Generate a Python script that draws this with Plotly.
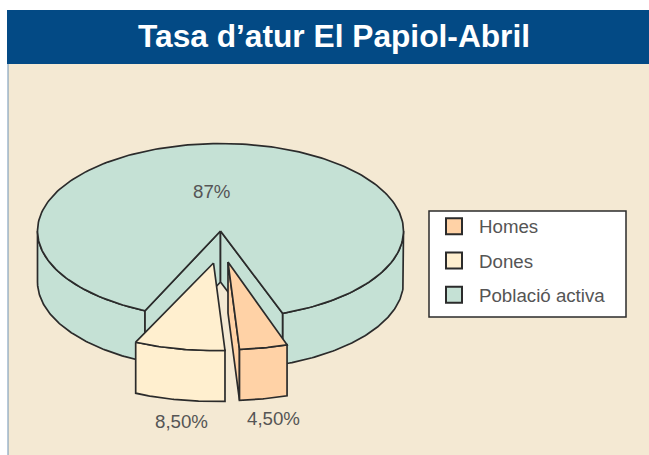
import numpy as np
import plotly.graph_objects as go

# ---- data ----
categories = ["Homes", "Dones", "Població activa"]
values = [4.5, 8.5, 87.0]
value_labels = ["4,50%", "8,50%", "87%"]
title_text = "Tasa d’atur El Papiol-Abril"

# ---- styles / projection ----
colors = ["#FFD2A6", "#FFEFCF", "#C5E1D5"]
BG = "#F4E9D3"
BLUE = "#034A85"
EDGE = "#2B2B2B"
LW = 1.7
CX, CY, RX, RY, DEPTH = 220.5, 231.0, 183.0, 87.5, 51.0
BOUNDARY = 3.6         # projected angle between the two pulled-out slices
FORESHORTEN = 0.94     # front of the tilted pie is foreshortened
EXPLODE_H = (7.5, 31.0)
EXPLODE_D = (-7.0, 32.0)


def arc(a0, a1, n=90, dx=0.0, dy=0.0):
    t = np.radians(np.linspace(a0, a1, n))
    return CX + dx + RX * np.sin(t), CY + dy + RY * np.cos(t)


sweep_h = values[0] / 100 * 360 * FORESHORTEN
sweep_d = values[1] / 100 * 360 * FORESHORTEN
right = BOUNDARY + sweep_h + 1.0
left = BOUNDARY - sweep_d
main_end = 360 + left + 0.8

fig = go.Figure()


def poly(xs, ys, fill, name="", line=True):
    fig.add_trace(go.Scatter(
        x=list(xs) + [xs[0]], y=list(ys) + [ys[0]], mode="lines", fill="toself",
        fillcolor=fill, line=dict(color=EDGE if line else fill, width=LW),
        showlegend=False, hoverinfo="skip"))


# outer wall of the main slice (visible front portions)
for a0, a1 in ((right, 90), (270, main_end)):
    ax, ay = arc(a0, a1)
    poly(np.r_[ax, ax[::-1]], np.r_[ay, ay[::-1] + DEPTH], colors[2])

# notch: walls and floor
ax, ay = arc(main_end - 360, right)
poly(np.r_[CX, ax], np.r_[CY + DEPTH, ay + DEPTH], BG, line=False)
for a in (main_end - 360, right):
    px, py = arc(a, a, 1)
    poly([CX, px[0], px[0], CX], [CY, py[0], py[0] + DEPTH, CY + DEPTH], colors[2])

# top face of the main slice
ax, ay = arc(right, main_end, 240)
poly(np.r_[CX, ax], np.r_[CY, ay], colors[2])

# Dones slice
dx, dy = EXPLODE_D
ax, ay = arc(left, BOUNDARY, 60, dx, dy)
poly(np.r_[ax, ax[::-1]], np.r_[ay, ay[::-1] + DEPTH], colors[1])
poly(np.r_[CX + dx, ax], np.r_[CY + dy, ay], colors[1])

# Homes slice: cut wall, outer wall, top
dx, dy = EXPLODE_H
ax, ay = arc(BOUNDARY, BOUNDARY + sweep_h, 40, dx, dy)
poly([CX + dx, ax[0], ax[0], CX + dx],
     [CY + dy, ay[0], ay[0] + DEPTH, CY + dy + DEPTH], colors[0])
poly(np.r_[ax, ax[::-1]], np.r_[ay, ay[::-1] + DEPTH], colors[0])
poly(np.r_[CX + dx, ax], np.r_[CY + dy, ay], colors[0])

# legend entries
for name, col in zip(categories, colors):
    fig.add_trace(go.Scatter(
        x=[None], y=[None], mode="markers", name=name, legendgroup=name,
        marker=dict(symbol="square", size=16, color=col,
                    line=dict(color=EDGE, width=2))))

label_pos = [(273.5, 418.5), (181, 421), (211, 191.5)]
annotations = [
    dict(x=x, y=y, xref="x", yref="y", text=t, showarrow=False,
         font=dict(family="Liberation Sans", size=18.7, color="#555555"))
    for (x, y), t in zip(label_pos, value_labels)
]
annotations.append(dict(
    x=333.5, y=36, xref="x", yref="y", text=f"<b>{title_text}</b>", showarrow=False,
    font=dict(family="Liberation Sans", size=31.7, color="white")))

shapes = [
    dict(type="rect", xref="x", yref="y", x0=8, x1=649, y0=64, y1=455,
         fillcolor=BG, line=dict(width=0), layer="below"),
    dict(type="line", xref="x", yref="y", x0=8, x1=8, y0=64, y1=455,
         line=dict(color="#6E93B5", width=1), layer="below"),
    dict(type="rect", xref="x", yref="y", x0=7, x1=649, y0=10, y1=64,
         fillcolor=BLUE, line=dict(width=0), layer="below"),
    dict(type="rect", xref="x", yref="y", x0=429, x1=626, y0=211, y1=317,
         fillcolor="white", line=dict(color=EDGE, width=1.5), layer="below"),
]

fig.update_layout(
    width=649, height=455, margin=dict(l=0, r=0, t=0, b=0),
    paper_bgcolor="white", plot_bgcolor="white",
    xaxis=dict(range=[0, 649], visible=False, fixedrange=True),
    yaxis=dict(range=[455, 0], visible=False, fixedrange=True),
    shapes=shapes, annotations=annotations,
    legend=dict(x=429 / 649, y=1 - 207.5 / 455, xanchor="left", yanchor="top",
                bgcolor="rgba(0,0,0,0)", borderwidth=0,
                font=dict(family="Liberation Sans", size=18.7, color="#555555"),
                tracegroupgap=7, itemwidth=40, traceorder="grouped"),
)

fig.write_html("out.html", config=dict(displayModeBar=False),
               post_script="document.body.style.margin='0';")
